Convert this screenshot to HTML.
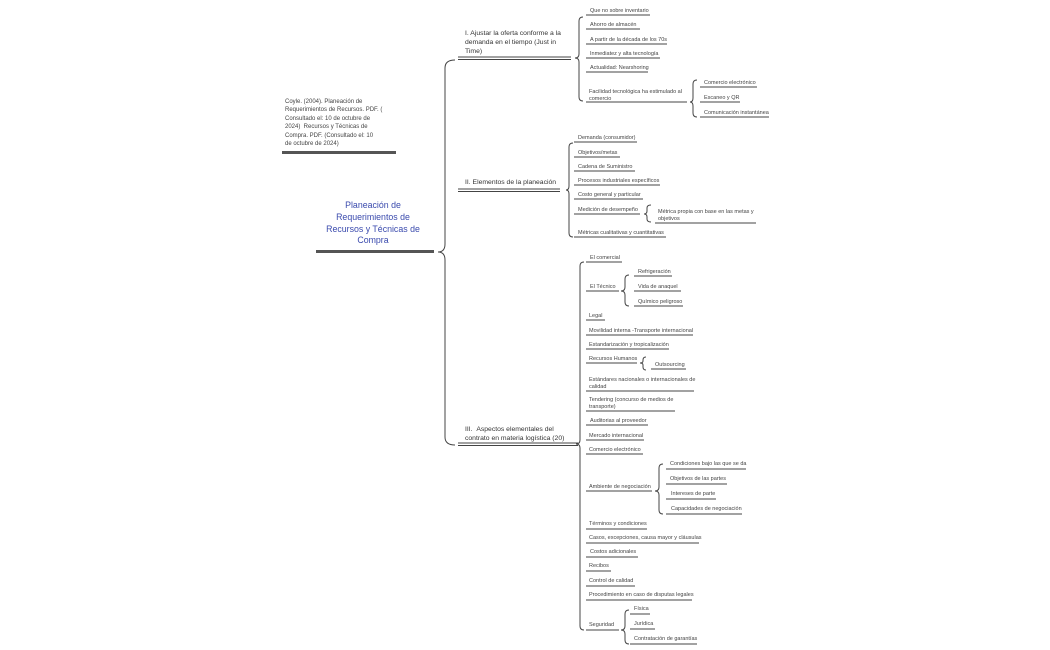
<!DOCTYPE html>
<html><head><meta charset="utf-8"><style>
body{margin:0;width:1050px;height:650px;background:#fff;position:relative;overflow:hidden;font-family:"Liberation Sans",sans-serif;color:#444}
.t{position:absolute;font-size:5.5px;line-height:7px;white-space:nowrap;margin-top:1.5px}
.b{position:absolute;font-size:6.8px;line-height:9px;color:#333;white-space:nowrap}
svg{position:absolute;left:0;top:0}
</style></head><body>
<svg width="1050" height="650" fill="none" stroke="#444" stroke-width="1">
<line x1="316" y1="251.5" x2="434" y2="251.5" stroke="#555" stroke-width="3"/>
<line x1="282" y1="152.5" x2="396" y2="152.5" stroke="#555" stroke-width="3"/>
<path d="M455,60 Q445,60 445,68 L445,244 Q445,252 438,252 Q445,252 445,260 L445,437 Q445,445 455,445"/>
<line x1="458" y1="57" x2="571" y2="57"/><line x1="458" y1="59.5" x2="571" y2="59.5"/>
<line x1="458" y1="189" x2="560" y2="189"/><line x1="458" y1="191.5" x2="560" y2="191.5"/>
<line x1="458" y1="443" x2="578" y2="443"/><line x1="458" y1="445.5" x2="578" y2="445.5"/>
<path d="M583,17 Q579,17 579,21 L579,54 Q579,58 575,58 Q579,58 579,62 L579,97 Q579,101 583,101"/>
<line x1="586" y1="15" x2="650" y2="15"/><line x1="586" y1="29" x2="640" y2="29"/>
<line x1="586" y1="44" x2="667" y2="44"/><line x1="586" y1="58" x2="660" y2="58"/>
<line x1="586" y1="72" x2="648" y2="72"/><line x1="586" y1="102" x2="687" y2="102"/>
<path d="M697,80 Q693,80 693,84 L693,98 Q693,102 690,102 Q693,102 693,106 L693,113 Q693,117 697,117"/>
<line x1="700" y1="87" x2="757" y2="87"/><line x1="700" y1="102" x2="740" y2="102"/><line x1="700" y1="117" x2="769" y2="117"/>
<path d="M573,143 Q569,143 569,147 L569,186 Q569,190 566,190 Q569,190 569,194 L569,233 Q569,237 573,237"/>
<line x1="574" y1="142" x2="637" y2="142"/><line x1="574" y1="157" x2="620" y2="157"/>
<line x1="574" y1="171" x2="635" y2="171"/><line x1="574" y1="185" x2="660" y2="185"/>
<line x1="574" y1="199" x2="643" y2="199"/><line x1="574" y1="214" x2="640" y2="214"/>
<line x1="574" y1="237" x2="666" y2="237"/>
<path d="M651,205 Q647,205 647,208 L647,211 Q647,214 644,214 Q647,214 647,217 L647,219 Q647,222 651,222"/>
<line x1="655" y1="223" x2="756" y2="223"/>
<path d="M584,262 Q580,262 580,266 L580,440 Q580,444 576,444 Q580,444 580,448 L580,626 Q580,630 584,630"/>
<line x1="586" y1="262" x2="622" y2="262"/><line x1="586" y1="291" x2="619" y2="291"/>
<path d="M629,275 Q625,275 625,279 L625,287 Q625,291 621,291 Q625,291 625,295 L625,302 Q625,306 629,306"/>
<line x1="634" y1="276" x2="672" y2="276"/><line x1="634" y1="291" x2="681" y2="291"/><line x1="634" y1="306" x2="683" y2="306"/>
<line x1="586" y1="320" x2="605" y2="320"/><line x1="586" y1="335" x2="693" y2="335"/>
<line x1="586" y1="349" x2="669" y2="349"/><line x1="586" y1="363" x2="637" y2="363"/>
<path d="M646,357 Q643,357 643,360 L643,361 Q643,363 640,363 Q643,363 643,365 L643,367 Q643,370 646,370"/>
<line x1="651" y1="369" x2="686" y2="369"/>
<line x1="586" y1="391" x2="694" y2="391"/><line x1="586" y1="411" x2="675" y2="411"/>
<line x1="586" y1="425" x2="648" y2="425"/><line x1="586" y1="440" x2="644" y2="440"/>
<line x1="586" y1="454" x2="643" y2="454"/><line x1="586" y1="491" x2="652" y2="491"/>
<path d="M663,464 Q659,464 659,468 L659,487 Q659,491 655,491 Q659,491 659,495 L659,510 Q659,514 663,514"/>
<line x1="666" y1="469" x2="746" y2="469"/><line x1="666" y1="484" x2="727" y2="484"/>
<line x1="666" y1="499" x2="716" y2="499"/><line x1="666" y1="514" x2="742" y2="514"/>
<line x1="586" y1="529" x2="647" y2="529"/><line x1="586" y1="543" x2="699" y2="543"/>
<line x1="586" y1="557" x2="638" y2="557"/><line x1="586" y1="571" x2="611" y2="571"/>
<line x1="586" y1="586" x2="635" y2="586"/><line x1="586" y1="600" x2="692" y2="600"/>
<line x1="586" y1="630" x2="619" y2="630"/>
<path d="M629,610 Q625,610 625,614 L625,626 Q625,630 621,630 Q625,630 625,634 L625,640 Q625,644 629,644"/>
<line x1="630" y1="614" x2="650" y2="614"/><line x1="630" y1="629" x2="655" y2="629"/><line x1="630" y1="644" x2="697" y2="644"/>
</svg>

<div class="b" style="left:313px;top:200px;width:120px;text-align:center;color:#3a4aad;font-size:8.8px;line-height:11.8px">Planeación de<br>Requerimientos de<br>Recursos y Técnicas de<br>Compra</div>
<div class="t" style="left:285px;top:96px;line-height:8.6px;font-size:6px">Coyle. (2004). Planeación de<br>Requerimientos de Recursos. PDF. (<br>Consultado el: 10 de octubre de<br>2024) &nbsp;Recursos y Técnicas de<br>Compra. PDF. (Consultado el: 10<br>de octubre de 2024)</div>

<div class="b" style="left:465px;top:29px">I. Ajustar la oferta conforme a la<br>demanda en el tiempo (Just in<br>Time)</div>
<div class="b" style="left:465px;top:178px">II. Elementos de la planeación</div>
<div class="b" style="left:465px;top:425px">III. &nbsp;Aspectos elementales del<br>contrato en materia logística (20)</div>

<div class="t" style="left:590px;top:6px">Que no sobre inventario</div>
<div class="t" style="left:590px;top:20px">Ahorro de almacén</div>
<div class="t" style="left:590px;top:35px">A partir de la década de los 70s</div>
<div class="t" style="left:590px;top:49px">Inmediatez y alta tecnología</div>
<div class="t" style="left:590px;top:63px">Actualidad: Nearshoring</div>
<div class="t" style="left:589px;top:87px">Facilidad tecnológica ha estimulado al<br>comercio</div>
<div class="t" style="left:704px;top:78px">Comercio electrónico</div>
<div class="t" style="left:704px;top:93px">Escaneo y QR</div>
<div class="t" style="left:704px;top:108px">Comunicación instantánea</div>

<div class="t" style="left:578px;top:133px">Demanda (consumidor)</div>
<div class="t" style="left:578px;top:148px">Objetivos/metas</div>
<div class="t" style="left:578px;top:162px">Cadena de Suministro</div>
<div class="t" style="left:578px;top:176px">Procesos industriales específicos</div>
<div class="t" style="left:578px;top:190px">Costo general y particular</div>
<div class="t" style="left:578px;top:205px">Medición de desempeño</div>
<div class="t" style="left:658px;top:207px">Métrica propia con base en las metas y<br>objetivos</div>
<div class="t" style="left:578px;top:228px">Métricas cualitativas y cuantitativas</div>

<div class="t" style="left:590px;top:253px">El comercial</div>
<div class="t" style="left:590px;top:282px">El Técnico</div>
<div class="t" style="left:638px;top:267px">Refrigeración</div>
<div class="t" style="left:638px;top:282px">Vida de anaquel</div>
<div class="t" style="left:638px;top:297px">Químico peligroso</div>
<div class="t" style="left:589px;top:311px">Legal</div>
<div class="t" style="left:589px;top:326px">Movilidad interna -Transporte internacional</div>
<div class="t" style="left:589px;top:340px">Estandarización y tropicalización</div>
<div class="t" style="left:589px;top:354px">Recursos Humanos</div>
<div class="t" style="left:655px;top:360px">Outsourcing</div>
<div class="t" style="left:589px;top:375px">Estándares nacionales o internacionales de<br>calidad</div>
<div class="t" style="left:589px;top:395px">Tendering (concurso de medios de<br>transporte)</div>
<div class="t" style="left:590px;top:416px">Auditorias al proveedor</div>
<div class="t" style="left:589px;top:431px">Mercado internacional</div>
<div class="t" style="left:589px;top:445px">Comercio electrónico</div>
<div class="t" style="left:589px;top:482px">Ambiente de negociación</div>
<div class="t" style="left:670px;top:459px">Condiciones bajo las que se da</div>
<div class="t" style="left:670px;top:474px">Objetivos de las partes</div>
<div class="t" style="left:671px;top:489px">Intereses de parte</div>
<div class="t" style="left:671px;top:504px">Capacidades de negociación</div>
<div class="t" style="left:589px;top:519px">Términos y condiciones</div>
<div class="t" style="left:589px;top:533px">Casos, excepciones, causa mayor y cláusulas</div>
<div class="t" style="left:590px;top:547px">Costos adicionales</div>
<div class="t" style="left:589px;top:561px">Recibos</div>
<div class="t" style="left:589px;top:576px">Control de calidad</div>
<div class="t" style="left:589px;top:590px">Procedimiento en caso de disputas legales</div>
<div class="t" style="left:589px;top:620px">Seguridad</div>
<div class="t" style="left:634px;top:604px">Física</div>
<div class="t" style="left:634px;top:619px">Jurídica</div>
<div class="t" style="left:634px;top:634px">Contratación de garantías</div>
</body></html>
